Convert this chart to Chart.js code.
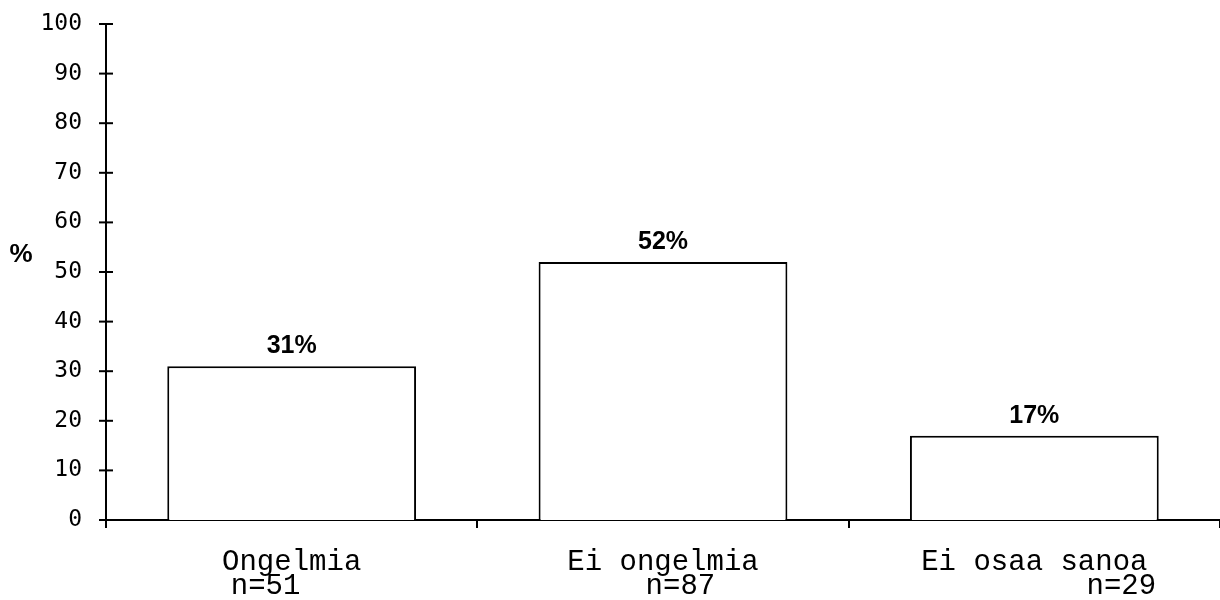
<!DOCTYPE html>
<html>
<head>
<meta charset="utf-8">
<script src="https://cdn.jsdelivr.net/npm/chart.js@4"></script>
<style>
  html, body { margin: 0; padding: 0; background: #fff; }
  #wrap { width: 1220px; height: 600px; }
</style>
</head>
<body>
<div id="wrap"><canvas id="barChart"></canvas></div>
<script>
// category labels, second line padded the way the original was typed
const categories = [
  ["Ongelmia", "n=51   "],
  ["Ei ongelmia", "  n=87"],
  ["Ei osaa sanoa", "          n=29"],
];
const shares = [31, 52, 17];
const yTicks = [0, 10, 20, 30, 40, 50, 60, 70, 80, 90, 100];

// tick marks crossing the y axis, the "%" label and the value labels
const extras = {
  id: "extras",
  afterDraw(chart) {
    const ctx = chart.ctx;
    const y = chart.scales.y;
    const x = y.right;
    ctx.save();
    ctx.strokeStyle = "#000";
    ctx.lineWidth = 2;
    yTicks.forEach((v) => {
      const py = y.getPixelForValue(v);
      ctx.beginPath();
      ctx.moveTo(x - 7, py);
      ctx.lineTo(x + 7, py);
      ctx.stroke();
    });
    ctx.beginPath();
    ctx.moveTo(x, y.getPixelForValue(0));
    ctx.lineTo(x, y.getPixelForValue(0) + 8);
    ctx.stroke();

    ctx.fillStyle = "#000";
    ctx.font = "bold 26px 'Liberation Sans'";
    ctx.textAlign = "center";
    ctx.textBaseline = "middle";
    ctx.fillText("%", 21, 255);

    ctx.font = "bold 25px 'Liberation Sans'";
    ctx.textBaseline = "alphabetic";
    chart.getDatasetMeta(0).data.forEach((bar, i) => {
      ctx.fillText(shares[i] + "%", bar.x, bar.y - 13);
    });
    ctx.restore();
  },
};

document.addEventListener("DOMContentLoaded", function () {
  const ctx = document.getElementById("barChart").getContext("2d");
  new Chart(ctx, {
    type: "bar",
    data: {
      labels: categories,
      datasets: [
        {
          data: shares,
          backgroundColor: "#ffffff",
          borderColor: "#000000",
          borderWidth: 2,
          barPercentage: 0.67,
          categoryPercentage: 1,
        },
      ],
    },
    options: {
      responsive: true,
      maintainAspectRatio: false,
      animation: false,
      layout: { padding: { top: 24, right: 0, bottom: 0, left: 0 } },
      plugins: {
        legend: { display: false },
        tooltip: { enabled: false },
      },
      scales: {
        y: {
          min: 0,
          max: 100,
          afterFit: (scale) => {
            scale.width = 106;
            scale.paddingTop = 0;
            scale.paddingBottom = 0;
          },
          afterBuildTicks: (scale) => {
            scale.ticks = yTicks.map((v) => ({ value: v }));
          },
          border: { color: "#000", width: 2 },
          grid: { display: false, drawTicks: false },
          ticks: {
            color: "#000",
            padding: 24,
            font: { family: "'DejaVu Sans Mono'", size: 23 },
          },
        },
        x: {
          afterFit: (scale) => {
            scale.height = 80;
            scale.paddingLeft = 0;
            scale.paddingRight = 0;
          },
          border: { color: "#000", width: 2 },
          grid: {
            drawOnChartArea: false,
            offset: true,
            tickLength: 8,
            color: "#000",
            lineWidth: 2,
          },
          ticks: {
            color: "#000",
            padding: 22,
            maxRotation: 0,
            font: { family: "'Liberation Mono'", size: 29, lineHeight: "24px" },
          },
        },
      },
    },
    plugins: [extras],
  });
});
</script>
</body>
</html>
